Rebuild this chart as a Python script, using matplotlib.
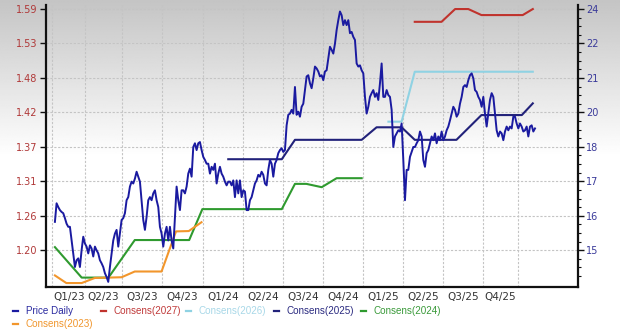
import numpy as np
import pandas as pd
import matplotlib
matplotlib.use("Agg")
import matplotlib.pyplot as plt
import matplotlib.dates as mdates
from matplotlib.ticker import FixedLocator, NullFormatter, FixedFormatter
from matplotlib.lines import Line2D

# ---------------- data ----------------
price_start = "2023-01-29"
price_end = "2026-01-27"
price_daily = [
    1.246, 1.276, 1.270, 1.265, 1.262, 1.260, 1.252, 1.243, 1.238, 1.238,
    1.216, 1.195, 1.173, 1.184, 1.187, 1.173, 1.200, 1.222, 1.211, 1.206,
    1.195, 1.208, 1.203, 1.190, 1.206, 1.200, 1.195, 1.184, 1.179, 1.173,
    1.163, 1.157, 1.149, 1.173, 1.195, 1.216, 1.227, 1.233, 1.206, 1.227,
    1.249, 1.252, 1.260, 1.281, 1.286, 1.303, 1.311, 1.308, 1.316, 1.327,
    1.319, 1.311, 1.281, 1.249, 1.233, 1.254, 1.281, 1.286, 1.281, 1.292,
    1.297, 1.281, 1.270, 1.238, 1.227, 1.206, 1.227, 1.238, 1.216, 1.238,
    1.216, 1.203, 1.254, 1.303, 1.281, 1.265, 1.297, 1.297, 1.292, 1.303,
    1.324, 1.332, 1.319, 1.367, 1.373, 1.362, 1.373, 1.375, 1.362, 1.351,
    1.346, 1.340, 1.340, 1.324, 1.335, 1.330, 1.340, 1.308, 1.324, 1.335,
    1.324, 1.319, 1.311, 1.305, 1.311, 1.311, 1.305, 1.313, 1.286, 1.313,
    1.292, 1.313, 1.286, 1.297, 1.295, 1.265, 1.265, 1.281, 1.286, 1.297,
    1.308, 1.313, 1.322, 1.319, 1.327, 1.322, 1.308, 1.305, 1.330, 1.346,
    1.340, 1.319, 1.340, 1.346, 1.357, 1.362, 1.365, 1.359, 1.362, 1.402,
    1.419, 1.421, 1.427, 1.421, 1.464, 1.419, 1.424, 1.416, 1.432, 1.437,
    1.459, 1.481, 1.483, 1.470, 1.462, 1.478, 1.497, 1.494, 1.489,
    1.481, 1.483, 1.475, 1.489, 1.491, 1.510, 1.529, 1.524, 1.518, 1.534,
    1.556, 1.572, 1.586, 1.580, 1.564, 1.572, 1.564, 1.572, 1.551, 1.553,
    1.545, 1.540, 1.502, 1.497, 1.499, 1.491, 1.486, 1.448, 1.421, 1.432,
    1.448, 1.454, 1.459, 1.448, 1.454, 1.443, 1.470, 1.502, 1.448, 1.448,
    1.459, 1.451, 1.448, 1.427, 1.367, 1.384, 1.389, 1.394, 1.392, 1.405,
    1.346, 1.281, 1.330, 1.330, 1.351, 1.359, 1.367, 1.367, 1.373, 1.378,
    1.392, 1.384, 1.346, 1.335, 1.357, 1.362, 1.373, 1.384, 1.378, 1.389,
    1.373, 1.384, 1.378, 1.392, 1.378, 1.384, 1.394, 1.400, 1.410, 1.421,
    1.432, 1.427, 1.416, 1.421, 1.437, 1.448, 1.464, 1.467, 1.464, 1.475,
    1.483, 1.486, 1.478, 1.459, 1.456, 1.448, 1.443, 1.432, 1.448, 1.421,
    1.400, 1.421, 1.443, 1.454, 1.448, 1.421, 1.394, 1.384, 1.392, 1.389,
    1.378, 1.392, 1.400, 1.394, 1.400, 1.397, 1.416, 1.416, 1.405, 1.397,
    1.405, 1.400, 1.392, 1.394, 1.400, 1.384, 1.400, 1.402, 1.392, 1.397,
]

cons_2027_dates = ["2025-04-28", "2025-06-28", "2025-07-29", "2025-08-28",
                   "2025-09-27", "2025-12-30", "2026-01-22"]
cons_2027 = [23.41, 23.41, 24.00, 24.00, 23.72, 23.72, 24.00]

cons_2026_dates = ["2025-02-27", "2025-03-29", "2025-04-28", "2026-01-22"]
cons_2026 = [19.27, 19.27, 21.24, 21.24]

cons_2025_dates = ["2024-02-28", "2024-06-29", "2024-07-29", "2024-12-28",
                   "2025-01-31", "2025-03-29", "2025-04-28", "2025-08-01",
                   "2025-09-27", "2025-12-28", "2026-01-22"]
cons_2025 = [17.91, 17.91, 18.60, 18.60, 19.06, 19.06, 18.60, 18.60,
             19.52, 19.52, 19.97]

cons_2024_dates = ["2023-01-29", "2023-03-31", "2023-05-31", "2023-07-30",
                   "2023-12-01", "2023-12-31", "2024-06-29", "2024-07-29",
                   "2024-08-24", "2024-09-28", "2024-11-01", "2024-12-28"]
cons_2024 = [15.09, 14.22, 14.22, 15.30, 15.30, 16.25, 16.25, 17.07,
             17.07, 16.96, 17.26, 17.26]

cons_2023_dates = ["2023-01-29", "2023-02-24", "2023-03-31", "2023-04-30",
                   "2023-06-30", "2023-07-30", "2023-09-29", "2023-11-01",
                   "2023-11-30", "2023-12-29"]
cons_2023 = [14.28, 14.07, 14.07, 14.21, 14.23, 14.39, 14.39, 15.56,
             15.57, 15.84]

quarter_labels = ["Q1/23", "Q2/23", "Q3/23", "Q4/23", "Q1/24", "Q2/24",
                  "Q3/24", "Q4/24", "Q1/25", "Q2/25", "Q3/25", "Q4/25"]
quarter_grid = ["2023-01-23", "2023-04-08", "2023-07-01", "2023-10-01",
                "2024-01-01", "2024-04-01", "2024-07-01", "2024-10-01",
                "2025-01-01", "2025-04-01", "2025-07-01", "2025-10-01",
                "2025-12-19"]
left_tick_labels = ["1.20", "1.26", "1.31", "1.37", "1.42", "1.48", "1.53", "1.59"]
right_tick_labels = ["15", "16", "17", "18", "20", "21", "22", "24"]

series_names = ["Price Daily", "Consens(2027)", "Consens(2026)",
                "Consens(2025)", "Consens(2024)", "Consens(2023)"]

# ---------------- styles ----------------
C_PRICE = "#1a1aa0"
C_2027 = "#c0332d"
C_2026 = "#8fd2e3"
C_2025 = "#22227a"
C_2024 = "#2f9a2f"
C_2023 = "#f2962c"
line_colors = [C_PRICE, C_2027, C_2026, C_2025, C_2024, C_2023]
text_colors = ["#2a2aa0", "#c03a3a", "#a8d8e8", "#2a2a80", "#3a9a3a", "#f0962d"]

W, H = 620, 332
fig = plt.figure(figsize=(W / 100, H / 100), dpi=100)

# background gradient (gray at the top fading to white)
bg = fig.add_axes([0, 0, 1, 1], zorder=-10)
t = np.linspace(0, 1, 400)[:, None]
g = 0.77 + 0.23 * np.clip(t / 0.47, 0, 1)
bg.imshow(np.repeat(g, 4, axis=1), cmap="gray", vmin=0, vmax=1,
          aspect="auto", extent=[0, 1, 0, 1], interpolation="bilinear")
bg.set_axis_off()

L, R, T, B = 45.7, 578.0, 5.0, 286.7
ax = fig.add_axes([L / W, 1 - B / H, (R - L) / W, (B - T) / H])
ax.set_facecolor("none")
axp = ax.twinx()

x0 = mdates.date2num(pd.Timestamp("2023-01-08"))
x1 = mdates.date2num(pd.Timestamp("2026-05-05"))

# consensus lines (right axis, log)
ax.set_yscale("log")
for d, v, c in [(cons_2024_dates, cons_2024, C_2024),
                (cons_2023_dates, cons_2023, C_2023),
                (cons_2025_dates, cons_2025, C_2025),
                (cons_2026_dates, cons_2026, C_2026),
                (cons_2027_dates, cons_2027, C_2027)]:
    ax.plot(pd.to_datetime(d), v, color=c, lw=1.5, solid_joinstyle="round")

rlo, rhi = 15.0, 24.0
n_r = len(right_tick_labels)
r_major = rlo * (rhi / rlo) ** (np.arange(n_r) / (n_r - 1))
r_minor = [rlo * (rhi / rlo) ** (k / (4 * (n_r - 1))) for k in range(-3, 4 * (n_r - 1)) if k % 4 != 0]
ax.set_ylim(13.97, 24.19)
ax.yaxis.set_major_locator(FixedLocator(r_major))
ax.yaxis.set_major_formatter(FixedFormatter(right_tick_labels))
ax.yaxis.set_minor_locator(FixedLocator(r_minor))
ax.yaxis.set_minor_formatter(NullFormatter())
ax.yaxis.tick_right()
ax.tick_params(axis="y", which="major", colors="#111111", labelcolor="#3a3a9a",
               labelsize=7, length=4, width=1, pad=2)
ax.tick_params(axis="y", which="minor", colors="#111111", length=2.5, width=0.8)

# price (left axis)
pdates = pd.date_range(price_start, price_end, periods=len(price_daily))
axp.plot(pdates, price_daily, color=C_PRICE, lw=1.4, solid_joinstyle="round")
llo, lhi = 1.20, 1.59
axp.set_ylim(1.1412, 1.5965)
axp.yaxis.set_major_locator(FixedLocator(np.linspace(llo, lhi, len(left_tick_labels))))
axp.yaxis.set_major_formatter(FixedFormatter(left_tick_labels))
axp.yaxis.tick_left()
axp.tick_params(axis="y", which="major", colors="#111111", labelcolor="#b03838",
                labelsize=7, length=4, width=1, pad=2)
for s in axp.spines.values():
    s.set_visible(False)

# x axis
ax.set_xlim(x0, x1)
grid_num = mdates.date2num(pd.to_datetime(quarter_grid))
mids = (grid_num[:-1] + grid_num[1:]) / 2
ax.xaxis.set_major_locator(FixedLocator(grid_num))
ax.xaxis.set_major_formatter(NullFormatter())
ax.xaxis.set_minor_locator(FixedLocator(mids))
ax.xaxis.set_minor_formatter(FixedFormatter(quarter_labels))
ax.tick_params(axis="x", which="major", length=0)
ax.tick_params(axis="x", which="minor", length=0, labelsize=7.5,
               labelcolor="#333333", pad=3.5)

ax.grid(True, which="major", axis="both", color="#c4c4c4", lw=0.8,
        linestyle=(0, (2, 1.5)))
ax.set_axisbelow(True)

for side in ["left", "right", "bottom"]:
    ax.spines[side].set_linewidth(1.6)
    ax.spines[side].set_color("#111111")
ax.spines["top"].set_visible(False)

# legend (manual, two rows)
leg_pos = [(15, 311), (103, 311), (188, 311), (276, 311), (363, 311), (15, 324)]
for name, lc, tc, (px, py) in zip(series_names, line_colors, text_colors, leg_pos):
    fig.add_artist(Line2D([(px - 2.5) / W, (px + 2.5) / W], [1 - py / H, 1 - py / H],
                          color=lc, lw=1.6, transform=fig.transFigure))
    fig.text((px + 10.5) / W, 1 - py / H, name, color=tc, fontsize=7.1,
             family="Liberation Sans", va="center", ha="left")

fig.savefig("out.png", dpi=100)
